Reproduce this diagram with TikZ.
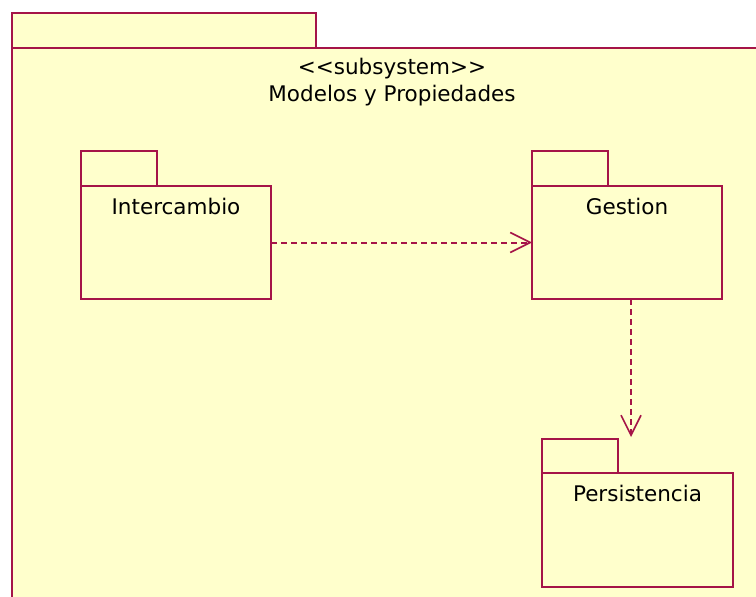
\documentclass[tikz,border=0pt]{standalone}
\usepackage{fontspec}
\setmainfont{DejaVu Sans}
\usetikzlibrary{arrows.meta,calc}
\definecolor{pkgline}{RGB}{165,20,72}
\definecolor{pkgfill}{RGB}{255,255,204}
\begin{document}
\begin{tikzpicture}[x=1pt,y=-1pt,
  pkgshape/.style={draw=pkgline,fill=pkgfill,line width=2pt,rectangle,
    inner sep=0pt,outer sep=0pt,anchor=north west},
  pkgtext/.style={font=\fontsize{21.5}{24}\selectfont,inner sep=0pt,anchor=base},
  depline/.style={draw=pkgline,line width=2pt,dash pattern=on 6pt off 4pt,
    -{Straight Barb[length=20pt,width=20pt,line width=1.6pt]}}]
  \useasboundingbox (0,0) rectangle (756,597);
  \clip (0,0) rectangle (756,597);

  % enclosing subsystem package
  \node[pkgshape,minimum width=304pt,minimum height=40pt] (systab) at (12,13) {};
  \node[pkgshape,minimum width=800pt,minimum height=600pt] (sysbody) at (12,48) {};
  \node[pkgtext] (stereo) at (392,74) {<{}<subsystem>{}>};
  \node[pkgtext] (sysname) at (392,101) {Modelos y Propiedades};

  % Intercambio
  \node[pkgshape,minimum width=76pt,minimum height=36pt] (intertab) at (81,151) {};
  \node[pkgshape,minimum width=190pt,minimum height=113pt] (inter) at (81,186) {};
  \node[pkgtext] (intername) at (inter.north |- 0,214) {Intercambio};

  % Gestion
  \node[pkgshape,minimum width=76pt,minimum height=36pt] (gesttab) at (532,151) {};
  \node[pkgshape,minimum width=190pt,minimum height=113pt] (gestion) at (532,186) {};
  \node[pkgtext] (gestname) at (gestion.north |- 0,214) {Gestion};

  % Persistencia
  \node[pkgshape,minimum width=76pt,minimum height=35pt] (perstab) at (542,439) {};
  \node[pkgshape,minimum width=191pt,minimum height=114pt] (persist) at (542,473) {};
  \node[pkgtext] (persname) at (persist.north |- 0,501) {Persistencia};

  % dependencies
  \coordinate (perstarget) at (631,437);
  \draw[depline] (inter.east) -- (gestion.west);
  \draw[depline] (gestion.south -| perstarget) -- (perstarget);
\end{tikzpicture}
\end{document}
